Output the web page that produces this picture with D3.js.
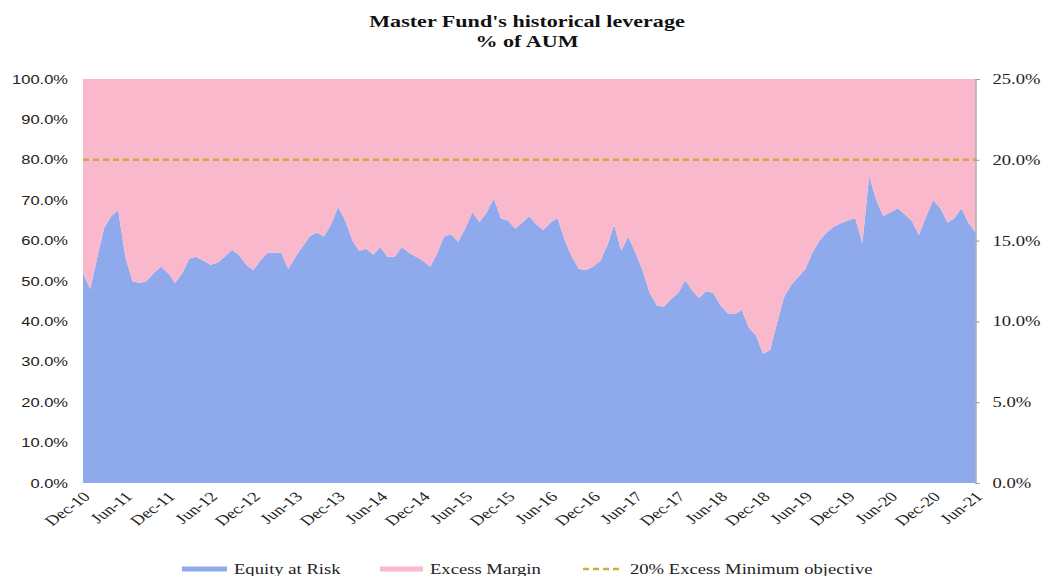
<!DOCTYPE html>
<html>
<head>
<meta charset="utf-8">
<script src="https://cdn.jsdelivr.net/npm/d3@7"></script>
<style>
  html, body { margin: 0; padding: 0; background: #fff; }
  svg { display: block; font-family: "Liberation Serif", "Times New Roman", serif; }
</style>
</head>
<body>
<svg id="chart" width="1043" height="576"></svg>
<script>
// ---- Data ----
const startMonth = "2010-12"; // Dec-10, monthly to Jun-21
const equityAtRisk = [
  52, 48, 56, 63, 66, 67.5, 56, 50, 49.5, 50,
  52, 53.5, 52, 49.5, 52, 55.5, 56, 55, 54, 54.5,
  56, 57.7, 56.5, 54, 52.7, 55, 57, 57, 57, 53,
  56, 58.5, 61, 62, 61, 64, 68.3, 65, 60, 57.5,
  58, 56.5, 58.4, 56, 56, 58.4, 57, 56, 55, 53.5,
  57, 61, 61.5, 59.7, 63, 67, 64.6, 67, 70.5, 65.5,
  65, 63, 64.5, 66, 64, 62.6, 64.5, 65.6, 60, 56,
  53, 52.7, 53.5, 55, 59, 63.9, 57.5, 61, 57, 52.7,
  47, 44, 43.6, 45.5, 47, 50.2, 47.5, 45.8, 47.5, 47,
  44, 42, 41.8, 42.8, 38.5, 36.5, 32, 33, 40, 46,
  49, 51, 53, 57, 60, 62, 63.4, 64.3, 65, 65.6,
  59.4, 76, 70, 66, 67, 68, 66.5, 64.8, 61.4, 66,
  70, 68, 64.5, 65.5, 68, 64.5, 62
];
const excessObjective = 80; // left-axis % (20% on the right axis)
const leftTicks = [0, 10, 20, 30, 40, 50, 60, 70, 80, 90, 100];
const rightTicks = [0, 5, 10, 15, 20, 25];
const xTickLabels = ["Dec-10","Jun-11","Dec-11","Jun-12","Dec-12","Jun-13","Dec-13","Jun-14","Dec-14","Jun-15","Dec-15","Jun-16","Dec-16","Jun-17","Dec-17","Jun-18","Dec-18","Jun-19","Dec-19","Jun-20","Dec-20","Jun-21"];
const seriesNames = ["Equity at Risk", "Excess Margin", "20% Excess Minimum objective"];
const titleLines = ["Master Fund's historical leverage", "% of AUM"];

// ---- Layout ----
const svg = d3.select("#chart");
const m = { left: 83, right: 975.5, top: 79, bottom: 483 };
const colors = { equity: "#8eaaec", margin: "#f9b8cb", line: "#c9ae3a" };
const SX = 1.33; // horizontal stretch of the text, as in the reference

const parse = d3.timeParse("%Y-%m");
const t0 = parse(startMonth);
const data = equityAtRisk.map((v, i) => ({ date: d3.timeMonth.offset(t0, i), equity: v, margin: 100 - v }));

const x = d3.scaleTime().domain(d3.extent(data, d => d.date)).range([m.left, m.right]);
const y = d3.scaleLinear().domain([0, 100]).range([m.bottom, m.top]);
const y2 = d3.scaleLinear().domain([0, 25]).range([m.bottom, m.top]);

const stack = d3.stack().keys(["equity", "margin"]);
const layers = stack(data);
const area = d3.area().x(d => x(d.data.date)).y0(d => y(d[0])).y1(d => y(d[1]));

svg.selectAll("path.layer").data(layers).join("path")
  .attr("class", "layer")
  .attr("d", area)
  .attr("fill", (d, i) => i === 0 ? colors.equity : colors.margin);

// objective line
svg.append("line")
  .attr("x1", m.left).attr("x2", m.right)
  .attr("y1", y(excessObjective)).attr("y2", y(excessObjective))
  .attr("stroke", colors.line).attr("stroke-width", 2.5)
  .attr("stroke-dasharray", "6,4");

// left axis labels
const leftAxis = d3.axisLeft(y).tickValues(leftTicks).tickFormat(d => d.toFixed(1) + "%").tickSize(0);
const gl = svg.append("g").attr("transform", `translate(${m.left},0)`).call(leftAxis);
gl.select(".domain").remove();
gl.selectAll("text")
  .attr("x", 0).attr("transform", `translate(-15,0) scale(1.27,1)`)
  .attr("font-size", 13).attr("fill", "#222").attr("font-family", "Liberation Sans, Arial, sans-serif");

// right axis
const rightAxis = d3.axisRight(y2).tickValues(rightTicks).tickFormat(d => d.toFixed(1) + "%").tickSize(4);
const gr = svg.append("g").attr("transform", `translate(${m.right},0)`).call(rightAxis);
gr.select(".domain").attr("stroke", "#999").attr("stroke-width", 1.2);
gr.selectAll(".tick line").attr("stroke", "#999");
gr.selectAll("text")
  .attr("x", 0).attr("transform", `translate(17,0) scale(${SX},1)`)
  .attr("font-size", 14).attr("fill", "#222").attr("font-family", "Liberation Serif");

// x labels
const xTickDates = xTickLabels.map((_, i) => d3.timeMonth.offset(t0, i * 6));
const xAxis = d3.axisBottom(x).tickValues(xTickDates).tickFormat((d, i) => xTickLabels[i]).tickSize(0);
const gx = svg.append("g").attr("transform", `translate(0,${m.bottom})`).call(xAxis);
gx.select(".domain").remove();
gx.selectAll("text")
  .attr("font-size", 14).attr("fill", "#222").attr("font-family", "Liberation Serif")
  .attr("text-anchor", "end")
  .attr("x", 0).attr("y", 0).attr("dy", "0.35em")
  .attr("transform", `translate(3,11) scale(${SX},1) rotate(-45)`);

// title
titleLines.forEach((t, i) => {
  svg.append("text").attr("transform", `translate(527,${27 + i * 20}) scale(1.3,1)`)
    .attr("text-anchor", "middle")
    .attr("font-size", 17).attr("font-weight", "bold").attr("fill", "#111").text(t);
});

// legend
const legend = [
  { name: seriesNames[0], x: 182, color: colors.equity, dash: null, w: 45 },
  { name: seriesNames[1], x: 380, color: colors.margin, dash: null, w: 43 },
  { name: seriesNames[2], x: 583, color: colors.line, dash: "6,4", w: 40 }
];
const ly = 569;
legend.forEach(l => {
  svg.append("line").attr("x1", l.x).attr("x2", l.x + l.w).attr("y1", ly).attr("y2", ly)
    .attr("stroke", l.color).attr("stroke-width", l.dash ? 2.5 : 5)
    .attr("stroke-dasharray", l.dash);
  svg.append("text").attr("transform", `translate(${l.x + l.w + 7},${ly + 5}) scale(${SX},1)`)
    .attr("font-size", 14).attr("fill", "#222").text(l.name);
});
</script>
</body>
</html>
